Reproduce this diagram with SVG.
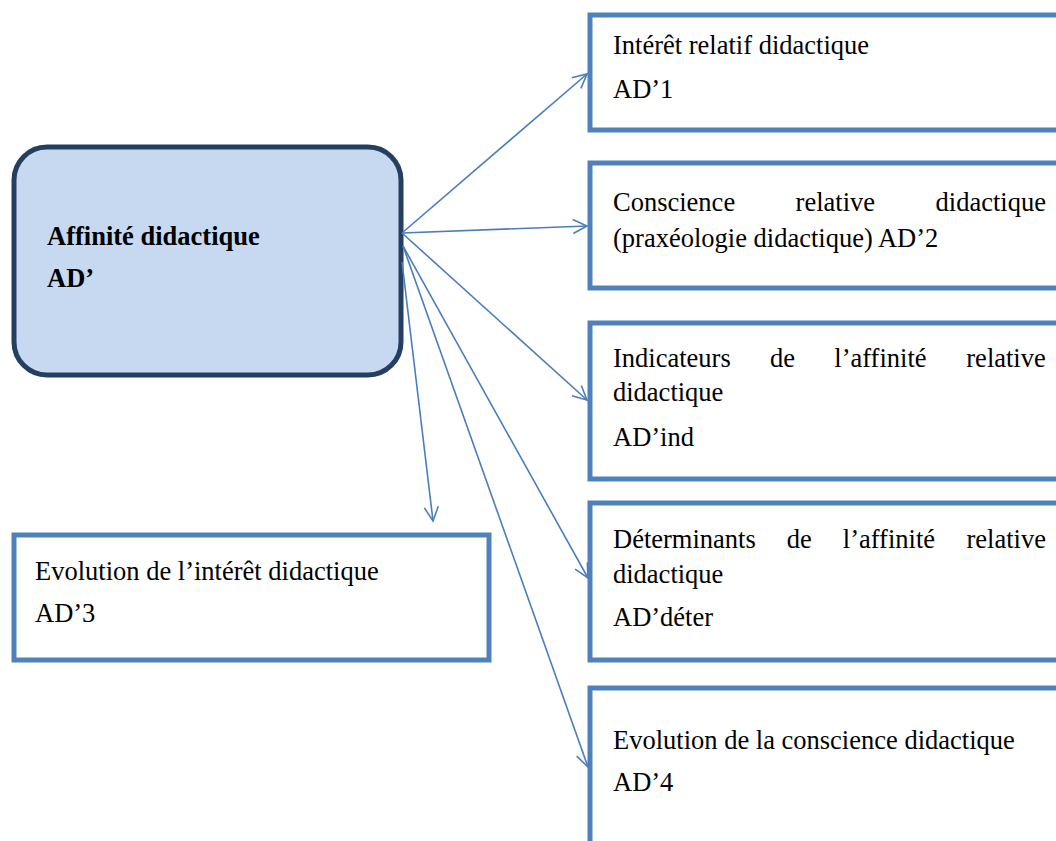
<svg xmlns="http://www.w3.org/2000/svg" width="1056" height="841" viewBox="0 0 1056 841">
  <style>
    .box { fill: #FFFFFF; stroke: #4F81BD; stroke-width: 5; }
    .main { fill: #C6D9F1; stroke: #243F60; stroke-width: 5; }
    .t { font-family: "Liberation Serif", "Times New Roman", serif; font-size: 26.5px; fill: #000000; }
    .b { font-weight: bold; }
    .conn { fill: none; stroke: #4A7EBB; stroke-width: 1.6; marker-end: url(#arrow); }
  </style>
  <defs>
    <marker id="arrow" markerUnits="userSpaceOnUse" markerWidth="20" markerHeight="20" refX="0" refY="0" viewBox="-16 -10 20 20" orient="auto">
      <path d="M-14,-7 L0,0 L-14,7" fill="none" stroke="#4A7EBB" stroke-width="1.6"/>
    </marker>
  </defs>
  <rect width="1056" height="841" fill="#FFFFFF"/>

  <g id="main">
    <rect class="main" x="14" y="147" width="387" height="228" rx="33" ry="33"/>
    <text class="t b" x="47" y="245">Affinité didactique</text>
    <text class="t b" x="47" y="287">AD’</text>
  </g>

  <g id="ad1">
    <rect class="box" x="590" y="15" width="480" height="115"/>
    <text class="t" x="613" y="54">Intérêt relatif didactique</text>
    <text class="t" x="613" y="98">AD’1</text>
  </g>

  <g id="ad2">
    <rect class="box" x="590" y="163" width="480" height="125"/>
    <text class="t" y="211"><tspan x="613">Conscience</tspan><tspan x="795.6">relative</tspan><tspan x="935.6">didactique</tspan></text>
    <text class="t" x="613" y="247">(praxéologie didactique) AD’2</text>
  </g>

  <g id="adind">
    <rect class="box" x="590" y="323" width="480" height="156"/>
    <text class="t" y="367"><tspan x="613">Indicateurs</tspan><tspan x="770">de</tspan><tspan x="834.3">l’affinité</tspan><tspan x="966.3">relative</tspan></text>
    <text class="t" x="613" y="401">didactique</text>
    <text class="t" x="613" y="446">AD’ind</text>
  </g>

  <g id="addeter">
    <rect class="box" x="590" y="503" width="480" height="157"/>
    <text class="t" y="548"><tspan x="613">Déterminants</tspan><tspan x="786.8">de</tspan><tspan x="842.8">l’affinité</tspan><tspan x="966.5">relative</tspan></text>
    <text class="t" x="613" y="583">didactique</text>
    <text class="t" x="613" y="626">AD’déter</text>
  </g>

  <g id="ad4">
    <rect class="box" x="590" y="688" width="480" height="180"/>
    <text class="t" x="613" y="749">Evolution de la conscience didactique</text>
    <text class="t" x="613" y="791">AD’4</text>
  </g>

  <g id="ad3">
    <rect class="box" x="14" y="535" width="475" height="125"/>
    <text class="t" x="35" y="580">Evolution de l’intérêt didactique</text>
    <text class="t" x="35" y="622">AD’3</text>
  </g>

  <g id="connectors">
    <line class="conn" x1="402" y1="233" x2="587" y2="74"/>
    <line class="conn" x1="402" y1="233" x2="587" y2="226"/>
    <line class="conn" x1="402" y1="233" x2="587" y2="400"/>
    <line class="conn" x1="403" y1="246" x2="588" y2="578"/>
    <line class="conn" x1="403" y1="246" x2="588" y2="767"/>
    <line class="conn" x1="402" y1="262" x2="433" y2="521"/>
  </g>
</svg>
